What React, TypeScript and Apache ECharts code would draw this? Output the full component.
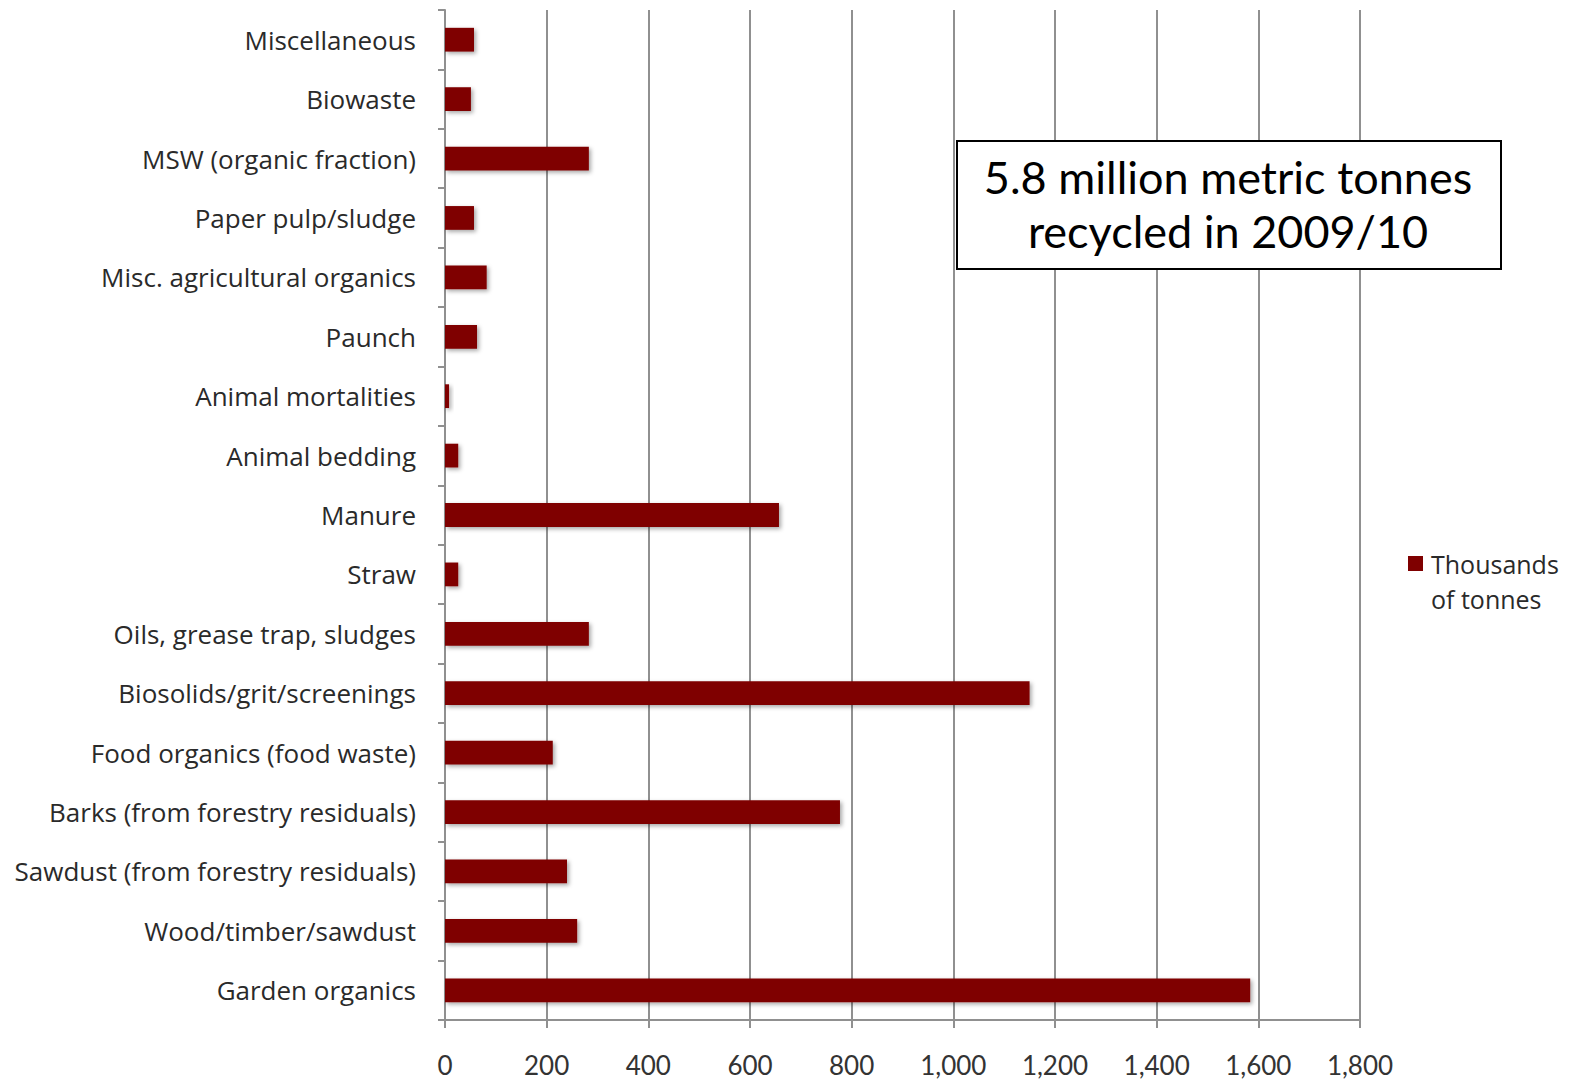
import React, { useEffect, useRef } from "react";
import * as echarts from "echarts";

const categories = [
  "Garden organics",
  "Wood/timber/sawdust",
  "Sawdust (from forestry residuals)",
  "Barks (from forestry residuals)",
  "Food organics (food waste)",
  "Biosolids/grit/screenings",
  "Oils, grease trap, sludges",
  "Straw",
  "Manure",
  "Animal bedding",
  "Animal mortalities",
  "Paunch",
  "Misc. agricultural organics",
  "Paper pulp/sludge",
  "MSW (organic fraction)",
  "Biowaste",
  "Miscellaneous",
];

const values = [1584, 260, 240, 777, 212, 1150, 283, 26, 657, 26, 8, 63, 82, 57, 283, 51, 57];

const seriesName = "Thousands of tonnes";
const legendLines = ["Thousands", "of tonnes"];
const boxLines = ["5.8 million metric tonnes", "recycled in 2009/10"];

export default function App() {
  const ref = useRef<HTMLDivElement>(null);
  useEffect(() => {
    if (!ref.current) return;
    const chart = echarts.init(ref.current, null, { renderer: "svg" });
    const gridColor = "#909090";
    chart.setOption({
      animation: false,
      backgroundColor: "#ffffff",
      grid: { left: 445, right: 219, top: 10, bottom: 60, containLabel: false },
      xAxis: {
        type: "value",
        min: 0,
        max: 1800,
        interval: 200,
        axisLine: { show: true, lineStyle: { color: gridColor, width: 2 } },
        axisTick: { show: true, length: 8, lineStyle: { color: gridColor, width: 2 } },
        axisLabel: {
          margin: 32,
          fontFamily: "Lato",
          fontSize: 26,
          color: "#333",
          formatter: (v: number) => v.toLocaleString("en-US"),
        },
        splitLine: {
          show: true,
          lineStyle: { color: gridColor, width: 2, type: "solid" },
        },
      },
      yAxis: {
        type: "category",
        data: categories,
        axisLine: { show: true, lineStyle: { color: gridColor, width: 2 } },
        axisTick: { show: true, length: 7, alignWithLabel: false, lineStyle: { color: gridColor, width: 2 } },
        axisLabel: {
          margin: 29,
          fontFamily: "Open Sans",
          fontSize: 26,
          color: "#2a2a2a",
        },
        splitLine: { show: false },
      },
      legend: {
        show: true,
        left: 1403,
        top: 506,
        orient: "vertical",
        itemWidth: 15,
        itemHeight: 15,
        icon: "rect",
        formatter: () => "\n" + legendLines.join("\n"),
        textStyle: {
          fontFamily: "Open Sans",
          fontSize: 25,
          color: "#2a2a2a",
          lineHeight: 35,
          padding: [0, 0, 0, 3],
        },
      },
      series: [
        {
          name: seriesName,
          type: "bar",
          data: values,
          barWidth: "40%",
          itemStyle: {
            color: "#7f0000",
            shadowColor: "rgba(0,0,0,0.35)",
            shadowBlur: 4,
            shadowOffsetX: 2,
            shadowOffsetY: 2,
          },
        },
      ],
      graphic: [
        {
          type: "rect",
          left: 956,
          top: 140,
          shape: { width: 544, height: 128 },
          style: { fill: "#ffffff", stroke: "#000000", lineWidth: 2 },
          z: 100,
        },
        {
          type: "text",
          x: 1228,
          y: 204,
          z: 101,
          style: {
            text: boxLines.join("\n"),
            fontFamily: "Lato",
            fontSize: 45,
            lineHeight: 54,
            fill: "#000000",
            align: "center",
            verticalAlign: "middle",
          },
        },
      ],
    });
    return () => chart.dispose();
  }, []);
  return <div ref={ref} style={{ width: 1579, height: 1080, marginLeft: -8, marginTop: -8 }} />;
}
